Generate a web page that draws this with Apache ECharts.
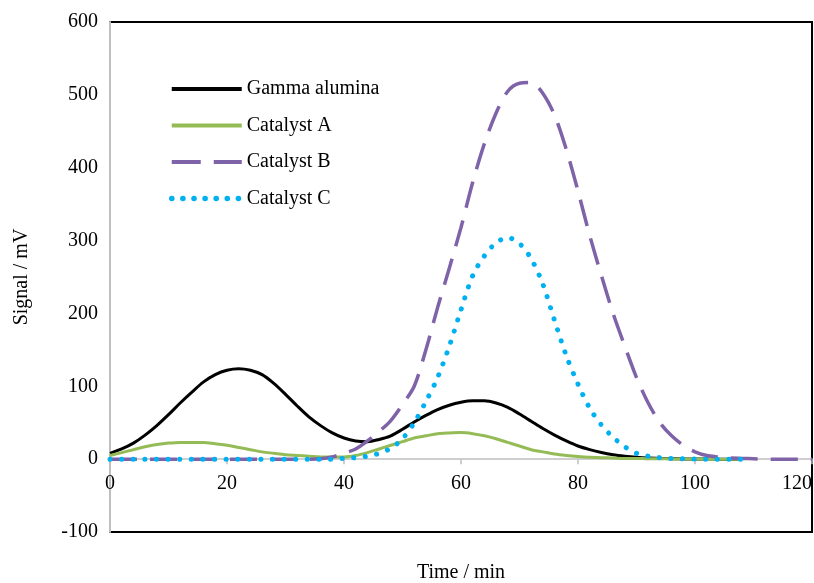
<!DOCTYPE html>
<html>
<head>
<meta charset="utf-8">
<script src="https://cdn.jsdelivr.net/npm/echarts@6/dist/echarts.min.js"></script>
<style>html,body{margin:0;padding:0;background:#fff}#c{width:814px;height:583px}</style>
</head>
<body>
<div id="c"></div>
<script>
// Time axis (min), 2-minute steps
const timeGamma = [0,2,4,6,8,10,12,14,16,18,20,22,24,26,28,30,32,34,36,38,40,42,44,46,48,50,52,54,56,58,60,62,64,66,68,70,72,74,76,78,80,82,84,86,88,90,92,94,96,98,100,102,104,106,108];
const gammaAlumina = [8,14,22,33,46,61,77,92,106,116,122,124,122,116,104,89,73,58,46,36,29,25,24,27,32,41,51,60,68,74,78,80,80,77,71,62,52,42,33,25,18,13,9,6,4,2.5,1.5,1,0.5,0.3,0.2,0.1,0,0,0];
const catalystA = [5,9,13,17,20,22,23,23,23,21,19,16,13,10,8,6,5,4,3,3,3,5,9,14,19,24,29,32,35,36,36.5,35,32,28,23,18,13,10,7,5,3.5,2.5,2,1.5,1,1,0.5,0.5,0.3,0.2,0.1,0,0,0,0];
const timeB = [0,2,4,6,8,10,12,14,16,18,20,22,24,26,28,30,32,34,36,38,40,42,44,46,48,50,52,54,56,58,60,62,64,66,68,70,72,74,76,78,80,82,84,86,88,90,92,94,96,98,100,102,104,106,108,110,112,114,116,118,120];
const catalystB = [0,0,0,0,0,0,0,0,0,0,0,0,0,0,0,0,0,0,0.5,3,8,14,25,38,53,75,100,150,208,262,318,380,433,475,505,516,517,502,472,425,368,307,252,200,155,112,77,50,32,19,10,5,3,1.5,1,0.5,0,0,0,0,0];
const catalystC = [0,0,0,0,0,0,0,0,0,0,0,0,0,0,0,0,0,0,0,0,1,2,4,8,15,28,50,79,112,155,205,252,279,297,304,296,275,240,190,142,103,70,47,30,17,8,4,2,1,0.5,0.2,0,0,0,0];
const seriesNames = ['Gamma alumina','Catalyst A','Catalyst B','Catalyst C'];
const xTicks = [0,20,40,60,80,100,120];
const yTicks = [-100,0,100,200,300,400,500,600];

const colors = ['#000000', '#94bb55', '#7f63a9', '#00b0f0'];
const pair = (t, v) => t.map((x, i) => [x, v[i]]);
const font = 'Liberation Serif';

// grid geometry
const gridTop = 22, gridBottom = 51, chartH = 583;
const plotH = chartH - gridTop - gridBottom;
const yMin = yTicks[0], yMax = yTicks[yTicks.length - 1];
const zeroOffset = -plotH * (0 - yMin) / (yMax - yMin); // lift x-axis to value 0

const styles = [
  {color: colors[0], width: 3},
  {color: colors[1], width: 3},
  {color: colors[2], width: 3.5, type: [27, 13]},
  {color: colors[3], width: 5, type: [0.1, 11.5], cap: 'round'}
];
const legendStyles = [
  {color: colors[0], width: 4},
  {color: colors[1], width: 4},
  {color: colors[2], width: 4, type: [29, 13]},
  {color: colors[3], width: 5.5, type: [0.1, 11], cap: 'round'}
];

const chart = echarts.init(document.getElementById('c'));
chart.setOption({
  animation: false,
  backgroundColor: '#fff',
  grid: {left: 110, right: 2, top: gridTop, bottom: gridBottom, show: true, borderColor: '#000', borderWidth: 2,
         backgroundColor: 'transparent', containLabel: false, outerBoundsMode: 'none'},
  legend: {
    orient: 'vertical', left: 169, top: 79, padding: 0,
    itemWidth: 70, itemHeight: 14, itemGap: 16.5,
    itemStyle: {opacity: 0},
    textStyle: {fontFamily: font, fontSize: 20, lineHeight: 20, color: '#000'},
    data: seriesNames.map((n, i) => ({name: n, lineStyle: legendStyles[i], itemStyle: {opacity: 0}}))
  },
  xAxis: {
    type: 'value', min: xTicks[0], max: xTicks[xTicks.length-1], interval: 20,
    offset: zeroOffset,
    name: 'Time / min', nameLocation: 'middle', nameGap: 104,
    nameTextStyle: {fontFamily: font, fontSize: 20, color: '#000'},
    axisLine: {onZero: false, lineStyle: {color: '#bfbfbf', width: 1.5}},
    axisTick: {show: true, length: 5, lineStyle: {color: '#bfbfbf', width: 1.5}},
    axisLabel: {fontFamily: font, fontSize: 20, color: '#000', margin: 15, alignMaxLabel: 'right'},
    splitLine: {show: false}
  },
  yAxis: {
    type: 'value', min: yMin, max: yMax, interval: 100,
    name: 'Signal / mV', nameLocation: 'middle', nameGap: 78,
    nameTextStyle: {fontFamily: font, fontSize: 20, color: '#000'},
    axisLine: {show: true, onZero: false, lineStyle: {color: '#bfbfbf', width: 2}},
    axisTick: {show: false},
    axisLabel: {fontFamily: font, fontSize: 20, color: '#000', margin: 12},
    splitLine: {show: false}
  },
  series: [
    {name: seriesNames[0], type: 'line', data: pair(timeGamma, gammaAlumina), showSymbol: false, symbol: 'none', smooth: 0.3,
     lineStyle: styles[0], itemStyle: {color: colors[0]}},
    {name: seriesNames[1], type: 'line', data: pair(timeGamma, catalystA), showSymbol: false, symbol: 'none', smooth: 0.3,
     lineStyle: styles[1], itemStyle: {color: colors[1]}},
    {name: seriesNames[2], type: 'line', data: pair(timeB, catalystB), showSymbol: false, symbol: 'none', smooth: 0.3,
     lineStyle: styles[2], itemStyle: {color: colors[2]}},
    {name: seriesNames[3], type: 'line', data: pair(timeGamma, catalystC), showSymbol: false, symbol: 'none', smooth: 0.3,
     lineStyle: styles[3], itemStyle: {color: colors[3]}}
  ]
});
</script>
</body>
</html>
